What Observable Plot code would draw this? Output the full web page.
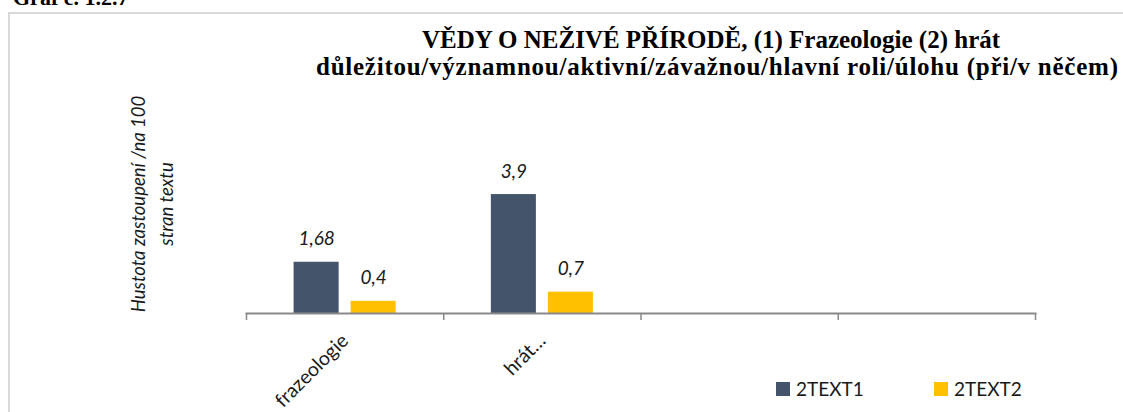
<!DOCTYPE html>
<html>
<head>
<meta charset="utf-8">
<script src="https://cdn.jsdelivr.net/npm/d3@7"></script>
<script src="https://cdn.jsdelivr.net/npm/@observablehq/plot@0.6"></script>
<style>
  html, body { margin: 0; padding: 0; background: #fff; }
  #wrap { position: relative; width: 1123px; height: 412px; overflow: hidden; background: #fff; }
  #box { position: absolute; left: 8px; top: 12px; width: 1300px; height: 600px; border: 2px solid #d9d9d9; box-sizing: border-box; }
  #graf { position: absolute; left: 13px; top: -13px; font: bold 22px/22px "Liberation Serif", serif; color: #000; white-space: nowrap; }
  .tline { position: absolute; font: bold 25px/27px "Liberation Serif", serif; color: #000; white-space: nowrap; }
  #t1 { left: 211px; width: 1000px; top: 26px; text-align: center; }
  #t2 { left: 316px; top: 53px; letter-spacing: 0.75px; }
  #ylab { position: absolute; left: 22px; top: 176px; width: 260px; height: 56px; text-align: center; font: italic 18.5px/28px Lato, sans-serif; color: #1a1a1a; transform: rotate(-90deg); transform-origin: 50% 50%; white-space: nowrap; }
  #chart { position: absolute; left: 0; top: 0; }
  #legend { position: absolute; left: 776px; top: 372px; }
  .lg-swatch { width: 158px; margin-right: 0 !important; }
  .lg-swatch > svg { margin-right: 6px !important; }
</style>
</head>
<body>
<div id="wrap">
  <div id="box"></div>
  <div id="graf">Graf č. 1.2.7</div>
  <div id="chart"></div>
  <div id="t1" class="tline"></div>
  <div id="t2" class="tline"></div>
  <div id="ylab"></div>
  <div id="legend"></div>
</div>
<script>
const graphTitle = ["VĚDY O NEŽIVÉ PŘÍRODĚ, (1) Frazeologie (2) hrát",
                    "důležitou/významnou/aktivní/závažnou/hlavní roli/úlohu (při/v něčem)"];
const yLabel = ["Hustota zastoupení /na 100", "stran textu"];
const categories = ["frazeologie", "hrát…", "kat3", "kat4"];
const tickLabels = ["frazeologie", "hrát…", "", ""];
const series = ["2TEXT1", "2TEXT2"];
const text1 = [1.68, 3.9, null, null];
const text2 = [0.4, 0.7, null, null];
const colors = ["#44546A", "#FFC000"];

document.getElementById("t1").textContent = graphTitle[0];
document.getElementById("t2").textContent = graphTitle[1];
document.getElementById("ylab").innerHTML = yLabel.map(t => `<div>${t}</div>`).join("");

const rows = [];
categories.forEach((c, i) => {
  [text1, text2].forEach((vals, s) => {
    if (vals[i] != null) rows.push({cat: c, series: series[s], value: vals[i]});
  });
});

const fmt = v => String(v).replace(".", ",");
const labelOf = d => tickLabels[categories.indexOf(d)];
const W = 1123, ML = 246, MR = 88;
const bw = (W - ML - MR) / categories.length;
const axisColor = "#898989";

const chart = Plot.plot({
  width: W,
  height: 412,
  marginLeft: ML,
  marginRight: MR,
  marginTop: 130,
  marginBottom: 99,
  style: {fontFamily: "Lato, sans-serif", background: "transparent", overflow: "visible"},
  fx: {domain: categories, padding: 0, round: false, label: null},
  x: {domain: series, paddingInner: 0.21, paddingOuter: 0.835, round: false, axis: null},
  y: {domain: [0, 6], axis: null},
  color: {domain: series, range: colors},
  marks: [
    Plot.barY(rows, {fx: "cat", x: "series", y: "value", fill: "series"}),
    Plot.text(rows, {fx: "cat", x: "series", y: "value", text: d => fmt(d.value), dy: -23,
      fontSize: 19, fontStyle: "italic", fill: "#1a1a1a"}),
    Plot.frame({anchor: "bottom", facet: "super", stroke: axisColor, strokeWidth: 2}),
    Plot.axisFx({anchor: "bottom", text: null, tickSize: 7, dx: -bw / 2, stroke: axisColor, strokeWidth: 1.5}),
    Plot.axisFx({anchor: "bottom", ticks: [categories[categories.length - 1]], text: null, tickSize: 7, dx: bw / 2, stroke: axisColor, strokeWidth: 1.5}),
    Plot.axisFx({anchor: "bottom", tickSize: 0, tickPadding: 24, tickRotate: -45, tickFormat: labelOf,
      fontSize: 19.5, fill: "#1a1a1a", label: null})
  ]
});
document.getElementById("chart").appendChild(chart);

const legend = Plot.legend({
  color: {domain: series, range: colors},
  legend: "swatches",
  swatchSize: 14,
  className: "lg",
  style: {fontFamily: "Lato, sans-serif", fontSize: "19px", color: "#1a1a1a"}
});
document.getElementById("legend").appendChild(legend);
</script>
</body>
</html>
